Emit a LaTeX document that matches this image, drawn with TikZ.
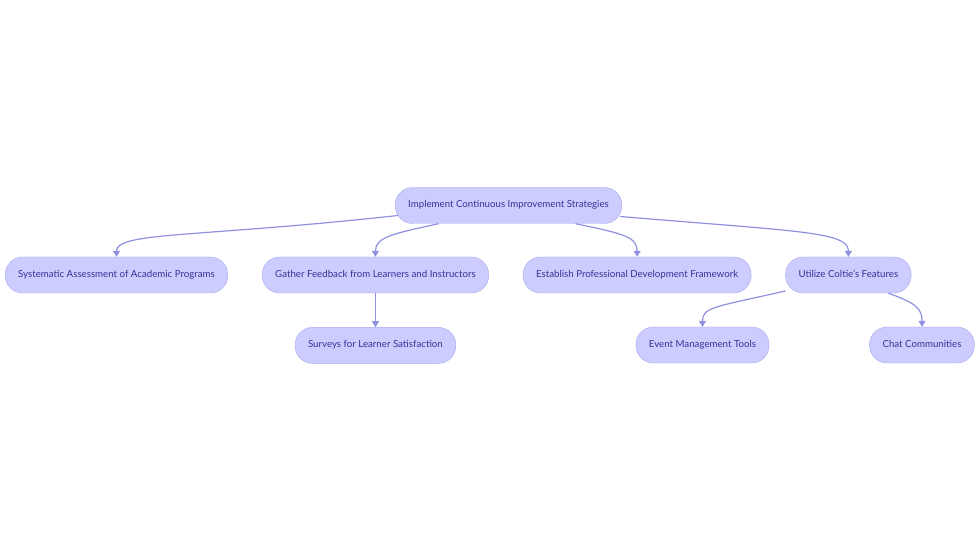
\documentclass[tikz,border=0pt]{standalone}
\usepackage{fontspec}
\setmainfont{Lato}
\usetikzlibrary{arrows.meta,positioning,calc}
\definecolor{boxfill}{RGB}{204,204,255}
\definecolor{boxline}{RGB}{168,168,236}
\definecolor{boxtext}{RGB}{52,52,150}
\definecolor{linkcol}{RGB}{144,144,226}

\begin{document}
\begin{tikzpicture}[
  x=1pt, y=-1pt,
  node distance=34pt,
  font=\fontsize{9.7}{11}\selectfont,
  box/.style={draw=boxline, fill=boxfill, text=boxtext, rounded corners=17.5pt, align=center, inner xsep=13pt, inner ysep=0pt, text height=7.2pt, text depth=2.2pt, minimum height=36pt},
  link/.style={-{Triangle[length=6pt,width=7pt]}, draw=linkcol, line width=1.2pt}
]
\useasboundingbox (0,0) rectangle (980,553);
% top node
\node[box] (root) at (508.5,205.5) {Implement Continuous Improvement Strategies};
% first row
\node[box, anchor=west] (assess) at (5,275) {Systematic Assessment of Academic Programs};
\node[box, right=of assess] (feedback) {Gather Feedback from Learners and Instructors};
\node[box, right=of feedback] (profdev) {Establish Professional Development Framework};
\node[box, right=of profdev] (coltie) {Utilize Coltie's Features};
% second row
\node[box, below=of feedback] (surveys) {Surveys for Learner Satisfaction};
\node[box] (events) at (702.5,345) {Event Management Tools};
\node[box] (chat) at (922,345) {Chat Communities};
% links
\draw[link] ($(root.west)+(3,10)$) .. controls +(-200,22) and +(0,-25) .. (assess.north);
\draw[link] ($(root.south)+(-70,0)$) .. controls +(-45,10) and +(0,-20) .. (feedback.north);
\draw[link] ($(root.south)+(67,0)$) .. controls +(48,10) and +(0,-20) .. (profdev.north);
\draw[link] ($(root.east)+(-2,11)$) .. controls +(180,15) and +(0,-25) .. (coltie.north);
\draw[link] (feedback) -- (surveys);
\draw[link] ($(coltie.west)+(0,16)$) .. controls +(-70,16) and +(0,-20) .. (events.north);
\draw[link] ($(coltie.south)+(40,0)$) .. controls +(28,10) and +(0,-18) .. (chat.north);
\end{tikzpicture}
\end{document}
